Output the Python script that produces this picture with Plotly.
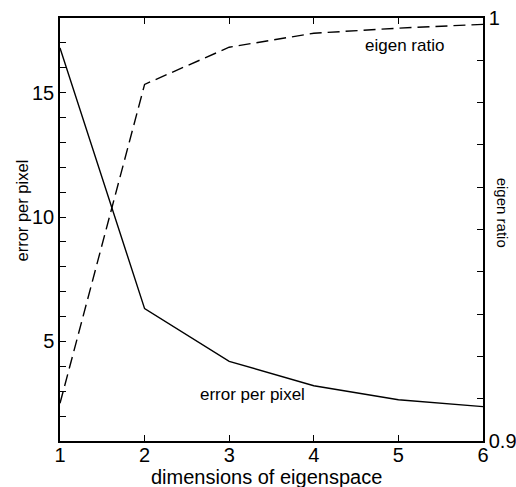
import plotly.graph_objects as go

dimensions = [1, 2, 3, 4, 5, 6]
error_per_pixel = [16.8, 6.32, 4.2, 3.22, 2.66, 2.38]
eigen_ratio = [0.9089, 0.9843, 0.9931, 0.9964, 0.9976, 0.9985]

x_ticks = [1, 2, 3, 4, 5, 6]
left_tickvals = list(range(1, 19))
left_ticktext = ["" if v not in (5, 10, 15) else str(v) for v in left_tickvals]
right_tickvals = [0.9, 0.91, 0.92, 0.93, 0.94, 0.95, 0.96, 0.97, 0.98, 0.99, 1.0]
right_ticktext = ["0.9", "", "", "", "", "", "", "", "", "", "1"]

FONT = "Liberation Sans, Arial, sans-serif"

fig = go.Figure()
fig.add_trace(go.Scatter(x=dimensions, y=error_per_pixel, mode="lines",
                         line=dict(color="black", width=1.4), yaxis="y",
                         name="error per pixel", showlegend=False))
fig.add_trace(go.Scatter(x=dimensions, y=eigen_ratio, mode="lines",
                         line=dict(color="black", width=1.4, dash="12px,6px"),
                         yaxis="y2", name="eigen ratio", showlegend=False))

fig.update_layout(
    width=516, height=487,
    margin=dict(l=60, r=33, t=18, b=46, autoexpand=False),
    paper_bgcolor="white", plot_bgcolor="white",
    font=dict(family=FONT, color="black"),
    xaxis=dict(range=[1, 6], tickvals=x_ticks, ticks="inside", ticklen=6,
               tickwidth=1, tickcolor="black", automargin=False,
               showline=True, linecolor="black", linewidth=1.5, mirror="ticks",
               showgrid=False, zeroline=False, ticklabelstandoff=-5,
               tickfont=dict(size=20, family=FONT)),
    yaxis=dict(range=[1, 18], tickvals=left_tickvals, ticktext=left_ticktext,
               ticks="inside", ticklen=6, tickwidth=1, tickcolor="black",
               automargin=False,
               showline=True, linecolor="black", linewidth=1.5,
               showgrid=False, zeroline=False,
               tickfont=dict(size=20, family=FONT)),
    yaxis2=dict(range=[0.9, 1.0], tickvals=right_tickvals, ticktext=right_ticktext,
                overlaying="y", side="right", automargin=False,
                ticks="inside", ticklen=6, tickwidth=1, tickcolor="black",
                showline=True, linecolor="black", linewidth=1.5,
                showgrid=False, zeroline=False,
                tickfont=dict(size=20, family=FONT)),
    annotations=[
        dict(text="eigen ratio", x=5.07, y=0.936, xref="x", yref="paper",
             xanchor="center", yanchor="middle",
             showarrow=False, font=dict(size=17, family=FONT)),
        dict(text="error per pixel", x=3.275, y=0.111, xref="x", yref="paper",
             xanchor="center", yanchor="middle",
             showarrow=False, font=dict(size=17, family=FONT)),
        dict(text="dimensions of eigenspace", x=0.489, y=-0.0851,
             xref="paper", yref="paper", xanchor="center", yanchor="middle",
             showarrow=False, font=dict(size=20, family=FONT)),
        dict(text="error per pixel", x=-0.0898, y=0.545, xref="paper", yref="paper",
             xanchor="center", yanchor="middle",
             textangle=-90, showarrow=False, font=dict(size=16.5, family=FONT)),
        dict(text="eigen ratio", x=1.047, y=0.54, xref="paper", yref="paper",
             xanchor="center", yanchor="middle",
             textangle=90, showarrow=False, font=dict(size=15, family=FONT)),
    ],
)

fig.write_html("out.html", config={"displayModeBar": False},
               post_script="document.body.style.margin='0';")
